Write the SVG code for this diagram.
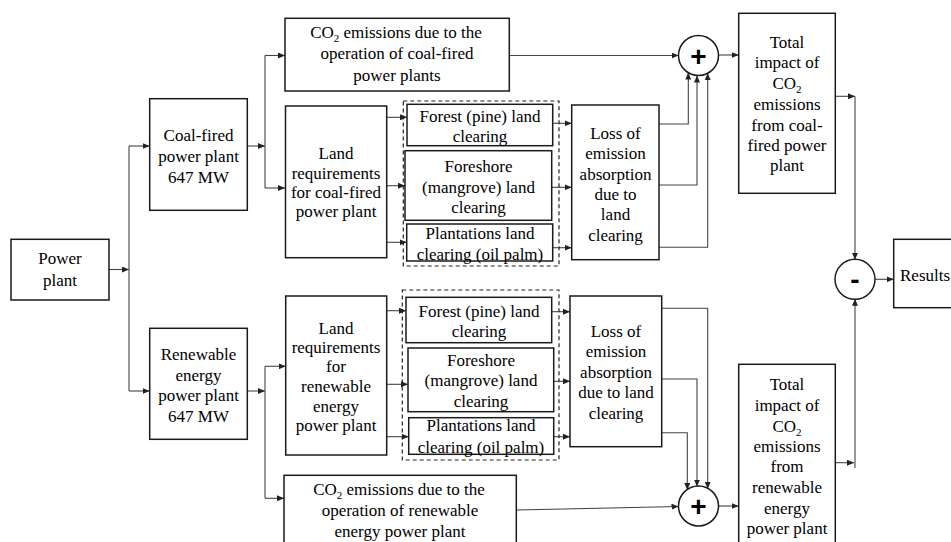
<svg xmlns="http://www.w3.org/2000/svg" width="951" height="542" viewBox="0 0 951 542">
<defs>
<marker id="ah" markerWidth="7" markerHeight="6" refX="7" refY="3" orient="auto" markerUnits="userSpaceOnUse">
<path d="M0,0 L7,3 L0,6 Z" fill="#222"/>
</marker>
<style>
.box{fill:#fff;stroke:#1a1a1a;stroke-width:1.5}
.dash{fill:none;stroke:#222;stroke-width:1.2;stroke-dasharray:4,3}
.c{fill:none;stroke:#444;stroke-width:1.1}
.a{marker-end:url(#ah)}
.t{font-family:"Liberation Serif","Times New Roman",serif;font-size:17px;fill:#000;text-anchor:middle}
.sub{font-size:11px}
.op{fill:#fff;stroke:#1a1a1a;stroke-width:1.5}
.sym{font-family:"Liberation Sans",Arial,sans-serif;font-weight:bold;font-size:28px;fill:#000;text-anchor:middle}
</style>
</defs>
<rect width="951" height="542" fill="#fff"/>

<g id="connectors">
<path class="c a" d="M109,269.5 H129"/>
<path class="c" d="M129,146 V391"/>
<path class="c a" d="M129,146 H149.7"/>
<path class="c a" d="M129,391 H149.7"/>
<path class="c a" d="M247.3,146 H265"/>
<path class="c" d="M265,55.5 V188"/>
<path class="c a" d="M265,55.5 H285"/>
<path class="c a" d="M265,188 H285"/>
<path class="c a" d="M386.7,117.3 H407"/>
<path class="c a" d="M386.7,185.7 H405"/>
<path class="c a" d="M386.7,242.3 H406.7"/>
<path class="c a" d="M552.7,123.3 H571.7"/>
<path class="c a" d="M551.7,187.3 H571.7"/>
<path class="c a" d="M552.7,247.7 H571.7"/>
<path class="c a" d="M509.3,55.5 H678.5"/>
<path class="c a" d="M659,124 H688.3 V72.6"/>
<path class="c a" d="M659,185 H697 V75.5"/>
<path class="c a" d="M659,247.3 H707.7 V73.2"/>
<path class="c a" d="M718.5,55 H738.7"/>
<path class="c a" d="M835.3,96.3 H855"/>
<path class="c a" d="M855,96.3 V259.8"/>
<path class="c a" d="M874.8,279.3 H893.7"/>
<path class="c a" d="M247.3,391 H265"/>
<path class="c" d="M265,366.3 V498.3"/>
<path class="c a" d="M265,366.3 H285.7"/>
<path class="c a" d="M265,498.3 H284"/>
<path class="c a" d="M386.7,310.7 H406"/>
<path class="c a" d="M386.7,384.3 H408"/>
<path class="c a" d="M386.7,436.7 H408.7"/>
<path class="c a" d="M551.7,311.7 H570"/>
<path class="c a" d="M553.7,381.3 H570"/>
<path class="c a" d="M553.7,436.7 H570"/>
<path class="c a" d="M661.7,308.3 H707.7 V488.8"/>
<path class="c a" d="M661.7,379 H697 V486.6"/>
<path class="c a" d="M661.7,432.7 H687.3 V490"/>
<path class="c a" d="M516.3,510 L678.5,506.5"/>
<path class="c a" d="M718.5,506 H738.7"/>
<path class="c a" d="M835.3,462.7 H854"/>
<path class="c a" d="M855,468 V298.8"/>
</g>

<g id="power-plant">
<rect class="box" x="11" y="239.3" width="98" height="60.7"/>
<text class="t" x="60" y="264">Power</text>
<text class="t" x="60" y="285.5">plant</text>
</g>

<g id="coal-plant">
<rect class="box" x="149.7" y="98.7" width="97.6" height="111.6"/>
<text class="t" x="198.5" y="141">Coal-fired</text>
<text class="t" x="198.5" y="162">power plant</text>
<text class="t" x="198.5" y="182.5">647 MW</text>
</g>

<g id="co2-coal">
<rect class="box" x="285" y="18.3" width="224.3" height="72.7"/>
<text class="t" x="396" y="38">CO<tspan class="sub" dy="4">2</tspan><tspan dy="-4"> emissions due to the</tspan></text>
<text class="t" x="397" y="59">operation of coal-fired</text>
<text class="t" x="397" y="80.5">power plants</text>
</g>

<g id="land-coal">
<rect class="box" x="285.5" y="106" width="101.2" height="151.7"/>
<text class="t" x="336" y="159">Land</text>
<text class="t" x="336" y="178.5">requirements</text>
<text class="t" x="336" y="198">for coal-fired</text>
<text class="t" x="336" y="217">power plant</text>
</g>

<g id="clearing-coal">
<rect class="dash" x="403.3" y="101" width="155.7" height="165"/>
</g>

<g id="forest-coal">
<rect class="box" x="407" y="104.3" width="145.7" height="41.4"/>
<text class="t" x="480" y="121.5">Forest (pine) land</text>
<text class="t" x="480" y="141.5">clearing</text>
</g>

<g id="foreshore-coal">
<rect class="box" x="405" y="150.7" width="146.7" height="69.6"/>
<text class="t" x="478.5" y="171.5">Foreshore</text>
<text class="t" x="478.5" y="192.5">(mangrove) land</text>
<text class="t" x="478.5" y="213">clearing</text>
</g>

<g id="plantation-coal">
<rect class="box" x="406.7" y="224" width="146" height="37"/>
<text class="t" x="480" y="238.5">Plantations land</text>
<text class="t" x="480" y="259.5">clearing (oil palm)</text>
</g>

<g id="loss-coal">
<rect class="box" x="571.7" y="105" width="87.3" height="154.7"/>
<text class="t" x="615.5" y="139">Loss of</text>
<text class="t" x="615.5" y="159">emission</text>
<text class="t" x="615.5" y="179.5">absorption</text>
<text class="t" x="615.5" y="199.5">due to</text>
<text class="t" x="615.5" y="220">land</text>
<text class="t" x="615.5" y="240.5">clearing</text>
</g>

<g id="plus-coal">
<circle class="op" cx="698.5" cy="55.5" r="20"/>
<text class="sym" x="698.5" y="65.5">+</text>
</g>

<g id="total-coal">
<rect class="box" x="738.7" y="13.3" width="96.6" height="180"/>
<text class="t" x="787" y="48">Total</text>
<text class="t" x="787" y="68">impact of</text>
<text class="t" x="787" y="89">CO<tspan class="sub" dy="4">2</tspan></text>
<text class="t" x="787" y="109.5">emissions</text>
<text class="t" x="787" y="130.5">from coal-</text>
<text class="t" x="787" y="151">fired power</text>
<text class="t" x="787" y="171">plant</text>
</g>

<g id="minus">
<circle class="op" cx="855" cy="279.3" r="20"/>
<text class="sym" x="855" y="289">-</text>
</g>

<g id="results">
<rect class="box" x="893.7" y="239.3" width="70" height="68.4"/>
<text class="t" x="900" y="281" style="text-anchor:start">Results</text>
</g>

<g id="renewable-plant">
<rect class="box" x="149.7" y="328.3" width="97.6" height="111"/>
<text class="t" x="198.5" y="360">Renewable</text>
<text class="t" x="198.5" y="380.5">energy</text>
<text class="t" x="198.5" y="401">power plant</text>
<text class="t" x="198.5" y="421.5">647 MW</text>
</g>

<g id="land-renewable">
<rect class="box" x="285.7" y="296" width="101" height="159"/>
<text class="t" x="336" y="334">Land</text>
<text class="t" x="336" y="353">requirements</text>
<text class="t" x="336" y="372">for</text>
<text class="t" x="336" y="391.5">renewable</text>
<text class="t" x="336" y="411.5">energy</text>
<text class="t" x="336" y="430.5">power plant</text>
</g>

<g id="clearing-renewable">
<rect class="dash" x="402.3" y="290" width="156.7" height="170"/>
</g>

<g id="forest-renewable">
<rect class="box" x="406" y="297.3" width="145.7" height="45.4"/>
<text class="t" x="479" y="316.5">Forest (pine) land</text>
<text class="t" x="479" y="336.5">clearing</text>
</g>

<g id="foreshore-renewable">
<rect class="box" x="408" y="348" width="145.7" height="63.7"/>
<text class="t" x="481" y="365.5">Foreshore</text>
<text class="t" x="481" y="386">(mangrove) land</text>
<text class="t" x="481" y="406.5">clearing</text>
</g>

<g id="plantation-renewable">
<rect class="box" x="408.7" y="417.7" width="145" height="36.6"/>
<text class="t" x="481" y="431">Plantations land</text>
<text class="t" x="481" y="453">clearing (oil palm)</text>
</g>

<g id="loss-renewable">
<rect class="box" x="570" y="296" width="91.7" height="150.7"/>
<text class="t" x="616" y="336.5">Loss of</text>
<text class="t" x="616" y="357">emission</text>
<text class="t" x="616" y="378">absorption</text>
<text class="t" x="616" y="398">due to land</text>
<text class="t" x="616" y="419">clearing</text>
</g>

<g id="co2-renewable">
<rect class="box" x="284" y="475.3" width="232.3" height="70"/>
<text class="t" x="399" y="495">CO<tspan class="sub" dy="4">2</tspan><tspan dy="-4"> emissions due to the</tspan></text>
<text class="t" x="400" y="515.5">operation of renewable</text>
<text class="t" x="400" y="537">energy power plant</text>
</g>

<g id="plus-renewable">
<circle class="op" cx="698.5" cy="506" r="20"/>
<text class="sym" x="698.5" y="516">+</text>
</g>

<g id="total-renewable">
<rect class="box" x="738.7" y="364.3" width="96.6" height="181"/>
<text class="t" x="787" y="390">Total</text>
<text class="t" x="787" y="411">impact of</text>
<text class="t" x="787" y="431.5">CO<tspan class="sub" dy="4">2</tspan></text>
<text class="t" x="787" y="451.5">emissions</text>
<text class="t" x="787" y="472">from</text>
<text class="t" x="787" y="493">renewable</text>
<text class="t" x="787" y="514">energy</text>
<text class="t" x="787" y="534">power plant</text>
</g>
</svg>
